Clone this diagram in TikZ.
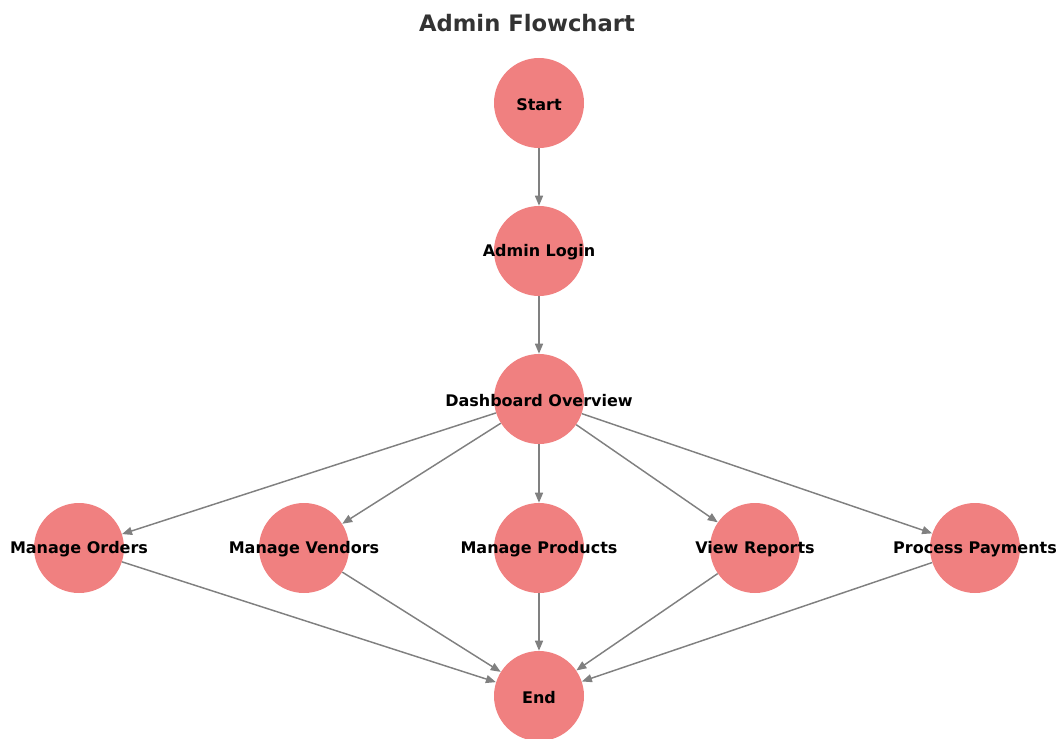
\documentclass[tikz,border=0pt]{standalone}
\usepackage{fontspec}
\setmainfont{DejaVu Sans}
\usepackage{xcolor}
\usepackage{tikz}
\usetikzlibrary{positioning,arrows.meta}
\definecolor{coralfill}{RGB}{240,128,128}
\definecolor{edgegray}{RGB}{128,128,128}
\definecolor{titlegray}{RGB}{51,51,51}
\tikzset{
  circ/.style ={circle, fill=coralfill, draw=none, minimum size=67.5pt, inner sep=0pt},
  lbl/.style  ={font=\bfseries\fontsize{12}{14}\selectfont, text=black, inner sep=0pt, yshift=-1pt},
  ar/.style   ={-{Triangle[length=7.5pt,width=6pt]}, draw=edgegray, line width=1.1pt},
}

\begin{document}
\begin{tikzpicture}[x=0.75pt,y=-0.75pt]
\useasboundingbox (0,0) rectangle (1062,738);
\node[font=\bfseries\fontsize{17}{20}\selectfont, text=titlegray] (title) at (527,23) {Admin Flowchart};

\node[circ] (start) at (539,103) {};
\node[circ] (login) at (539,251) {};
\node[circ] (dash)  at (539,399) {};
\node[circ] (orders)   at (79,548)  {};
\node[circ] (vendors)  at (304,548) {};
\node[circ] (products) at (539,548) {};
\node[circ] (reports)  at (755,548) {};
\node[circ] (payments) at (975,548) {};
\node[circ] (end)   at (539,696) {};

\draw[ar] (start)--(login); \draw[ar] (login)--(dash);
\foreach \n in {orders,vendors,products,reports,payments}{
  \draw[ar] (dash)--(\n);
  \draw[ar] (\n)--(end);
}

\node[lbl] at (start) {Start};
\node[lbl] at (login) {Admin Login};
\node[lbl] at (dash) {Dashboard Overview};
\node[lbl] at (orders) {Manage Orders};
\node[lbl] at (vendors) {Manage Vendors};
\node[lbl] at (products) {Manage Products};
\node[lbl] at (reports) {View Reports};
\node[lbl] at (payments) {Process Payments};
\node[lbl] at (end) {End};
\end{tikzpicture}
\end{document}
